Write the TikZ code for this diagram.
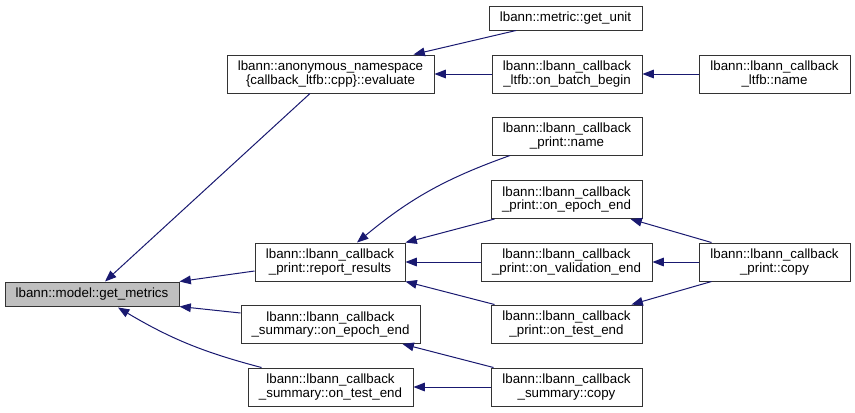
\documentclass[tikz,border=0pt]{standalone}
\usepackage{fontspec}
\setmainfont{Liberation Sans}
\usetikzlibrary{arrows.meta,calc}
\definecolor{edgeblue}{HTML}{191970}
\definecolor{nodegray}{HTML}{BFBFBF}
\definecolor{borderc}{HTML}{333333}
\begin{document}
\begin{tikzpicture}[x=0.75pt,y=-0.75pt,
  box/.style={draw=borderc,line width=0.75pt,fill=white,inner sep=0pt,align=center,
    font=\fontsize{10}{10.2}\selectfont,minimum height=28.5pt},
  sbox/.style={box,minimum height=18pt},
  edge/.style={draw=edgeblue,line width=0.75pt,-{Triangle[length=8.5pt,width=6.5pt]}}]
\useasboundingbox (0,0) rectangle (855,412);
% nodes
\node[sbox,fill=nodegray,minimum width=130.5pt] (gm) at (92,294) {lbann::model::get\_metrics};
\node[box,minimum width=155.25pt] (ev) at (330.5,74) {lbann::anonymous\_namespace\\\{callback\_ltfb::cpp\}::evaluate};
\node[sbox,minimum width=114.75pt] (gu) at (565.5,18) {lbann::metric::get\_unit};
\node[box,minimum width=112.5pt] (obb) at (567,74) {lbann::lbann\_callback\\\_ltfb::on\_batch\_begin};
\node[box,minimum width=113.25pt] (ln) at (774.5,74) {lbann::lbann\_callback\\\_ltfb::name};
\node[box,minimum width=112.5pt] (pn) at (567,136) {lbann::lbann\_callback\\\_print::name};
\node[box,minimum width=113.25pt] (poe) at (566.5,199.5) {lbann::lbann\_callback\\\_print::on\_epoch\_end};
\node[box,minimum width=128.25pt] (pve) at (566.5,262) {lbann::lbann\_callback\\\_print::on\_validation\_end};
\node[box,minimum width=113.25pt] (pc) at (774.5,262) {lbann::lbann\_callback\\\_print::copy};
\node[box,minimum width=113.25pt] (pte) at (566.5,324) {lbann::lbann\_callback\\\_print::on\_test\_end};
\node[box,minimum width=113.25pt] (sc) at (566.5,387) {lbann::lbann\_callback\\\_summary::copy};
\node[box,minimum width=112.5pt] (rr) at (330,262) {lbann::lbann\_callback\\\_print::report\_results};
\node[box,minimum width=134.25pt] (soe) at (330.5,324.5) {lbann::lbann\_callback\\\_summary::on\_epoch\_end};
\node[box,minimum width=123.75pt] (ste) at (330.5,387) {lbann::lbann\_callback\\\_summary::on\_test\_end};
% edges
\draw[edge] ($(ev.south)+(-20.5,0)$) -- ($(gm.north)+(13,0)$);
\draw[edge] ($(rr.west)+(0,9)$) -- (gm.north east);
\draw[edge] ($(soe.west)+(0,-11.5)$) -- (gm.south east);
\draw[edge] ($(ste.north west)+(14,0)$) to[bend left=8] ($(gm.south)+(26,1)$);
\draw[edge] ($(gu.south)+(-49.5,0)$) -- ($(ev.north east)+(-21,0)$);
\draw[edge] (obb.west) -- (ev.east);
\draw[edge] (ln.west) -- (obb.east);
\draw[edge] ($(pn.south)+(-57,0)$) to[bend right=10] ($(rr.north)+(27,0)$);
\draw[edge] ($(poe.south west)+(4,0)$) -- (rr.north east);
\draw[edge] (pve.west) -- (rr.east);
\draw[edge] ($(pte.north west)+(4,0)$) -- (rr.south east);
\draw[edge] ($(pc.north west)+(13,0)$) -- ($(poe.south east)+(-12,0)$);
\draw[edge] (pc.west) -- (pve.east);
\draw[edge] ($(pc.south west)+(13,0)$) -- ($(pte.north east)+(-11,0)$);
\draw[edge] ($(sc.north west)+(3,0)$) -- ($(soe.south east)+(-18,0)$);
\draw[edge] (sc.west) -- (ste.east);
\end{tikzpicture}
\end{document}
